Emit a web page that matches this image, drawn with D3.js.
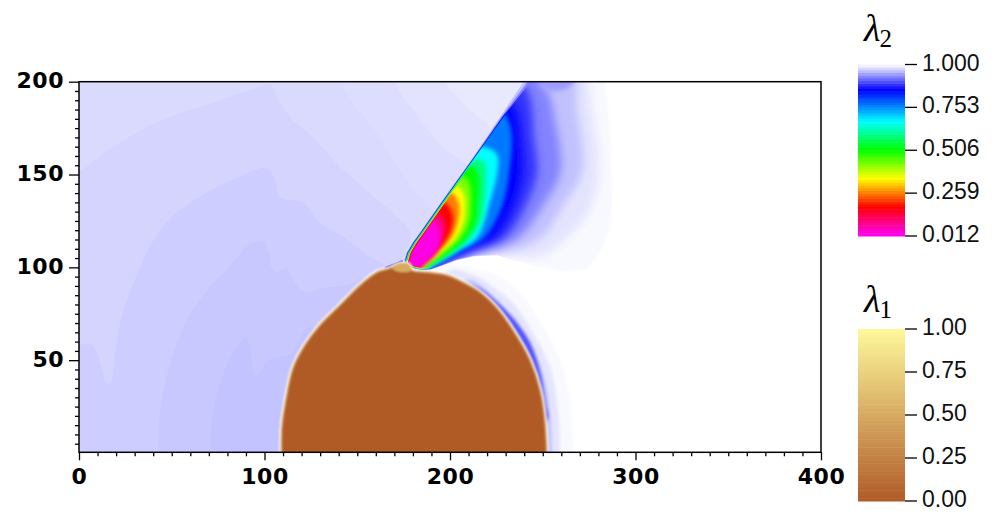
<!DOCTYPE html>
<html>
<head>
<meta charset="utf-8">
<script src="https://cdn.jsdelivr.net/npm/d3@7"></script>
<style>
html,body{margin:0;padding:0;background:#fff;}
svg{display:block;}
</style>
</head>
<body>
<script>
var width = 1001, height = 517;

// colour maps
var lambda2Stops = [0.012, 0.18, 0.345, 0.509, 0.673, 0.856, 1.0];
var lambda2Colors = ["#ff00ff", "#ff0000", "#ffff00", "#00ff00", "#00ffff", "#0000ff", "#ffffff"];
var lambda1Stops = [0, 1];
var lambda1Colors = ["#b05a28", "#fdf99a"];
var lambda2Ticks = ["1.000", "0.753", "0.506", "0.259", "0.012"];
var lambda1Ticks = ["1.00", "0.75", "0.50", "0.25", "0.00"];

// light bands of lambda2 left of the shock: value, then outline in x,y
var levelA = 0.987;
var bandA = [[-5,205],[241.5,205],[238.8,200],[227.1,181.6],[212.7,160],[194.7,134.8],[183.9,119.5],[179.4,113.2],[176.2,107.8],[174.5,101.9],[170,95],[150,-5],[-5,-5]];
var levelB = 0.984;
var bandB = [[-5,210],[196.7,210],[197.3,199.8],[205.4,190.1],[212.4,183.1],[221.5,175],[212.7,160],[194.7,134.8],[183.9,119.5],[179.4,113.2],[176.2,107.8],[174.5,101.9],[170,95],[150,-10],[-10,-10],[-10,210]];
var levelC = 0.981;
var bandC = [[-5,210],[170.3,210],[170.3,199.8],[180,184.7],[196.2,164.8],[205.4,157.8],[209.1,155],[194.7,134.8],[183.9,119.5],[179.4,113.2],[176.2,107.8],[174.5,101.9],[170,95],[150,-10],[-10,-10],[-10,210]];
var levelU = 0.979;
var bandU = [[-5,210],[140.7,210],[140.7,199.8],[147.7,188.5],[160.6,172.3],[173,152.4],[182.2,140],[190.8,130.9],[183.9,119.5],[179.4,113.2],[176.2,107.8],[174.5,101.9],[170,95],[150,-10],[-10,-10],[-10,210]];
var levelD = 0.976;
var bandD = [[-10,147],[0,151.3],[10.8,159.4],[27,170.2],[44.7,179.3],[71.7,188.5],[97,197.1],[103,198.7],[106.7,191.7],[113.7,180.9],[126.1,170.2],[140.7,154],[156.8,140],[169.2,129.2],[178.4,119],[176.2,107.8],[174.5,101.9],[170,95],[150,-10],[-10,-10]];
var levelE = 0.972;
var bandE = [[-10,58.2],[0,58.2],[7,58.2],[10.8,51.2],[14.6,38.2],[17.2,38.2],[19.9,56.5],[23.2,74.3],[32.3,98.5],[39.3,113.1],[50.1,127.1],[68.5,140],[86.2,148.6],[100.8,153.5],[105.1,148.6],[108.3,137.9],[120.7,134.6],[129.9,123.9],[142.3,116.3],[156.8,105.5],[166,100.2],[160,60],[100,-10],[-10,-10]];
var levelF = 0.969;
var bandF = [[43.1,-10],[43.1,15.1],[44.7,29.6],[50.1,51.2],[57.7,70.5],[70.1,88.9],[79.2,98.5],[93.2,113.1],[99.7,113.6],[102.4,107.7],[104,99.6],[106.2,97.5],[112.1,99.6],[114.8,94.2],[122.4,86.7],[131.5,88.9],[144.5,90.5],[160.6,95.9],[150,50],[110,-10]];
var levelG = 0.966;
var bandG = [[71.7,-10],[71.7,16.7],[77.1,40.4],[84.6,56.5],[90,61.9],[92.7,54.4],[94.3,42],[97,43.1],[102.4,50.1],[114.8,53.9],[124,67.3],[150,50],[120,-10]];

// halo on the right side of the bubble
var haloLevels = [0.996, 0.985, 0.965, 0.905];
var halo996 = [[186.5,99.6],[200,101.8],[216.1,98.5],[226.9,94.8],[239.3,84],[250.1,67.9],[259.3,50.1],[264.6,26.9],[266.3,0.5],[266.3,-8],[200,-8],[190,90]];
var halo985 = [[200,98.5],[216.1,94.2],[223.1,89.4],[233.9,80.8],[244.7,64.6],[253.9,46.3],[258.2,23.2],[259.3,0.5],[259.3,-8],[200,-8],[190,85]];
var halo965 = [[210.7,93.2],[216.1,90.5],[221.5,86.2],[230.7,77],[241.5,62.5],[250.1,43.1],[253.9,21.5],[255,0.5],[255,-8],[200,-8],[190,80]];
var halo905 = [[210,90],[216.1,88.9],[225.3,81.8],[233.9,73.2],[243.6,59.2],[249,43.1],[251.7,26.9],[252.6,17.8],[230,10],[200,60]];

// the fan behind the shock, outer contours first
var fanLevels = [0.996, 0.985, 0.965, 0.93, 0.885, 0.856, 0.77, 0.673, 0.59, 0.509, 0.43, 0.345, 0.26, 0.18, 0.1, 0.03];
var fan996 = [[225,210],[283.8,210],[283.8,200],[285.6,178.9],[286.9,151.9],[286.9,128.5],[282.9,112.3],[273.9,99.7],[263.1,97.9],[248.7,100.6],[230.7,104.2],[212.7,105.1]];
var fan985 = [[225,210],[274.8,210],[274.8,200],[277.5,178.9],[280.2,151.9],[274.8,130.3],[263.1,115.9],[248.7,106],[230.7,106.4],[212.7,106.9]];
var fan965 = [[225,210],[264.9,210],[268.5,184.3],[271.2,151.9],[261.3,133.9],[248.7,115.9],[230.7,108.7],[212.7,107.2]];
var fan930 = [[225,210],[248.7,210],[248.7,200],[253.2,193.3],[255.9,182.5],[259.5,151.9],[250.5,133.9],[237,115.9],[221.7,109.6],[201.9,103.3]];
var fan885 = [[228,198],[239.7,197.8],[243.3,189.7],[245.1,169.9],[246.9,151.9],[241,133.9],[229.3,115.9],[216.3,110.5],[198.3,103.3]];
var fan856 = [[227.1,190.6],[233.4,187.9],[237,178.9],[237.9,169.9],[238.8,151.9],[234.3,133.9],[223.5,115.9],[210.9,110.5],[194.7,102.4]];
var fan770 = [[224.4,183.4],[228.9,183.4],[231.6,178.9],[233.4,169.9],[232,151.9],[228.4,133.9],[218.5,115.9],[207.3,109.6],[192.9,101.9]];
var fan673 = [[212.7,165.4],[219.9,164.5],[225.3,160.9],[225.7,151.9],[221.2,133.9],[214.5,115.9],[203.7,108.7],[191.1,101.1]];
var fan590 = [[209.1,157.7],[218.1,157.3],[219.5,148.3],[218.5,133.9],[216.8,124.9],[211.3,115.9],[200.1,106.9],[189.3,100.6]];
var fan509 = [[205.5,154.6],[212.7,154.1],[215.4,148.3],[214.9,133.9],[213.8,124.9],[208.7,115.9],[198.3,106.9],[187.9,100.6]];
var fan430 = [[202.8,148.7],[208.7,148.3],[210.9,142.9],[211.3,133.9],[210.5,124.9],[205.9,115.9],[195.6,106.9],[186.6,100.6]];
var fan345 = [[198.3,143.8],[203.7,143.8],[207.7,139.3],[208.2,130.3],[207.5,124.9],[203.3,115.9],[193.8,106.9],[185.7,100.6]];
var fan260 = [[195.6,140.2],[201,140.2],[204.8,133.9],[204.2,124.9],[200.6,115.9],[192,106.9],[184.8,100.6]];
var fan180 = [[191.1,134.8],[197.4,134.8],[201.4,128.5],[201,121.3],[197.4,114.1],[188.9,105.1],[183.9,100.6]];
var fan100 = [[187.5,128.5],[194.7,128.5],[197.8,121.3],[194.7,114.1],[186.6,105.1],[183,100.6]];
var fan030 = [[181.2,125],[187.5,126.7],[192,124.9],[194.7,119.5],[194.7,112.3],[191.1,106],[184.8,100.6]];
var fanContours = [fan996, fan985, fan965, fan930, fan885, fan856, fan770, fan673, fan590, fan509, fan430, fan345, fan260, fan180, fan100, fan030];
var fanBack = [[183,94],[168,94]];
var topBlob = [[248,205],[268,205],[264,197],[257,195],[250,197]];
var topBlobLevel = 0.945;

var shockEdge = [[241.5,204.1],[238.8,200],[227.1,181.6],[212.7,160],[194.7,134.8],[183.9,119.5],[179.4,113.2],[176.2,107.8],[174.5,101.9]];
var floorEdge = [[177.6,100.6],[181.2,99],[184.8,98.3],[189.3,98.6],[196.5,101.1],[203.7,103.8],[212.7,105.8],[225.3,106.5],[248.7,99.7],[266.7,96.1],[293.7,96.1],[293.7,209.5],[241.5,209.5]];
// how far each level sits inside the shock (data units)
var shockInset = [0, 0, 0.15, 0.5, 0.8, 0.9, 1.1, 1.3, 1.5, 1.7, 2, 2.2, 2.4, 2.6, 2.9, 3.3];

// lambda1 bubble
var bubble = [[109.4,-8],[109.4,13.4],[111.1,25.8],[115.4,45.7],[121.8,58.1],[129.9,68.8],[140.7,79.6],[151.5,90.3],[160.6,97.3],[167.7,99.5],[172,101.6],[177.4,101.6],[179.5,98.4],[187.6,97.3],[198.4,95.7],[207,91.9],[216.2,86.6],[225.3,78],[234,66.1],[243.1,50],[248.5,33.9],[251.2,16.1],[252.3,-8]];
var bubbleCap = [[168.7,99.6],[172,101.8],[177.3,101.8],[179.4,98.5],[172.9,97.4]];
var tipLine = [[164.9,99.6],[170.3,101.8],[174.6,103.4]];

var xTicks = [0, 100, 200, 300, 400];
var yTicks = [50, 100, 150, 200];

var svg = d3.select("body").append("svg:svg")
    .attr("width", width)
    .attr("height", height);

var x = d3.scaleLinear().domain([0, 400]).range([79, 821]);
var y = d3.scaleLinear().domain([0, 200]).range([453, 81.7]);
var bottom = 452.3, top_ = 81.7;

var lambda2 = d3.scaleLinear().domain(lambda2Stops).range(lambda2Colors);
var lambda1 = d3.scaleLinear().domain(lambda1Stops).range(lambda1Colors);

var straight = d3.line().x(function(d){return x(d[0]);}).y(function(d){return y(d[1]);}).curve(d3.curveLinearClosed);
var smooth = d3.line().x(function(d){return x(d[0]);}).y(function(d){return y(d[1]);}).curve(d3.curveCatmullRomClosed.alpha(0.5));
var open = d3.line().x(function(d){return x(d[0]);}).y(function(d){return y(d[1]);}).curve(d3.curveCatmullRom.alpha(0.5));

var defs = svg.append("defs");
function blur(id, s) {
  defs.append("filter").attr("id", id)
      .attr("x", "-20%").attr("y", "-20%").attr("width", "140%").attr("height", "140%")
      .append("feGaussianBlur").attr("stdDeviation", s);
}
blur("blurFanEdge", 1.2);
blur("blurFanOuter", 4.5);
blur("blurFan", 2);
blur("blurEdge", 0.6);
blur("blurHalo", 1.5);
blur("blurRim", 1);
blur("blurBubble", 0.8);

defs.append("clipPath").attr("id", "frameClip").append("rect")
    .attr("x", x(0)).attr("y", top_).attr("width", x(400) - x(0)).attr("height", bottom - top_);

var field = svg.append("g").attr("clip-path", "url(#frameClip)");
field.append("rect").attr("x", x(0)).attr("y", top_).attr("width", x(400) - x(0)).attr("height", bottom - top_).attr("fill", "#fff");

// left side bands, stepped like the original
field.append("path").attr("d", straight(bandA)).attr("fill", lambda2(levelA));
var bands = [[levelB, bandB], [levelC, bandC], [levelU, bandU], [levelD, bandD], [levelE, bandE], [levelF, bandF], [levelG, bandG]];
field.selectAll("path.band").data(bands).enter().append("path")
    .attr("class", "band")
    .attr("d", function(d){return open(d[1]) + "Z";})
    .attr("fill", function(d){return lambda2(d[0]);});

// halo right of the bubble
var haloG = field.append("g").attr("filter", "url(#blurHalo)");
[halo996, halo985, halo965, halo905].forEach(function(h, i){
  haloG.append("path").attr("d", smooth(h)).attr("fill", lambda2(haloLevels[i]));
});

// fan: every level gets its own clip so the shock stays sharp
var fanG = field.append("g").attr("filter", "url(#blurEdge)");
fanContours.forEach(function(c, i){
  var inset = shockInset[i];
  // the shock gets much softer towards the top of the domain
  var clip = shockEdge.map(function(p){return [p[0] + inset * (p[1] > 190 ? 6 : p[1] > 175 ? 2 : 1), p[1]];})
    .concat(floorEdge.map(function(p){return [p[0], p[1] + inset * 0.5];}));
  defs.append("clipPath").attr("id", "fanClip" + i).append("path").attr("d", straight(clip));
  var blurId = i == 0 ? "blurFanEdge" : i < 6 ? "blurFanOuter" : "blurFan";
  fanG.append("g").attr("clip-path", "url(#fanClip" + i + ")")
    .append("path")
      .attr("d", open(c) + "L" + x(fanBack[0][0]) + "," + y(fanBack[0][1]) + "L" + x(fanBack[1][0]) + "," + y(fanBack[1][1]) + "Z")
      .attr("fill", lambda2(fanLevels[i]))
      .attr("filter", "url(#" + blurId + ")");
  if (i == 3) {
    fanG.append("g").attr("clip-path", "url(#fanClip3)")
      .append("path").attr("d", smooth(topBlob)).attr("fill", lambda2(topBlobLevel)).attr("filter", "url(#blurFan)");
  }
});

field.append("path").attr("d", open(tipLine)).attr("fill", "none")
    .attr("stroke", lambda2(0.885)).attr("stroke-width", 2);

// bubble
field.append("path").attr("d", open(bubble)).attr("fill", "none")
    .attr("stroke", "#fff").attr("stroke-width", 4.5).attr("filter", "url(#blurRim)");
var bub = field.append("g").attr("filter", "url(#blurBubble)");
bub.append("path").attr("d", open(bubble))
    .attr("fill", lambda1(0)).attr("stroke", lambda1(0.4)).attr("stroke-width", 1.5);
bub.append("path").attr("d", smooth(bubbleCap)).attr("fill", lambda1(0.5));

// frame and axes
svg.append("rect").attr("x", x(0)).attr("y", top_).attr("width", x(400) - x(0)).attr("height", bottom - top_)
    .attr("fill", "none").attr("stroke", "#000").attr("stroke-width", 1.5);

var xAxis = svg.append("g").attr("transform", "translate(0," + bottom + ")")
    .call(d3.axisBottom(x).tickValues(xTicks).tickSize(8).tickSizeOuter(0));
var yAxis = svg.append("g").attr("transform", "translate(" + x(0) + ",0)")
    .call(d3.axisLeft(y).tickValues(yTicks).tickSize(10).tickSizeOuter(0));
svg.append("g").attr("transform", "translate(0," + bottom + ")")
    .call(d3.axisBottom(x).tickValues(d3.range(10, 400, 10).filter(function(v){return v % 100 != 0;})).tickSize(4).tickSizeOuter(0).tickFormat(""));
svg.append("g").attr("transform", "translate(" + x(0) + ",0)")
    .call(d3.axisLeft(y).tickValues(d3.range(5, 200, 5).filter(function(v){return v % 50 != 0;})).tickSize(4).tickSizeOuter(0).tickFormat(""));
svg.selectAll(".domain").remove();
svg.selectAll(".tick line").attr("stroke", "#000").attr("stroke-width", 1.3);
xAxis.selectAll("text").attr("y", 484 - bottom).attr("dy", 0)
    .style("font", "bold 22px 'DejaVu Sans'").style("letter-spacing", "0.5px").attr("fill", "#000");
yAxis.selectAll("text").attr("x", -15).attr("dy", 6)
    .style("font", "bold 22px 'DejaVu Sans'").style("letter-spacing", "0.5px").attr("fill", "#000");

// colour bars
function colorBar(top, bot, scale, lo, hi, labels, title, sub, titleY) {
  var barY = d3.scaleLinear().domain([lo, hi]).range([bot, top]);
  var steps = d3.range(64);
  var g = svg.append("g");
  g.selectAll("rect").data(steps).enter().append("rect")
      .attr("x", 858).attr("width", 47)
      .attr("y", function(i){return barY(lo + (hi - lo) * (i + 1) / 64);})
      .attr("height", (bot - top) / 64 + 0.5)
      .attr("fill", function(i){return scale(lo + (hi - lo) * (i + 0.5) / 64);});
  labels.forEach(function(t, i){
    var ty = top + (bot - top) * i / (labels.length - 1);
    g.append("line").attr("x1", 905).attr("x2", 917).attr("y1", ty).attr("y2", ty)
        .attr("stroke", "#000").attr("stroke-width", 1.3);
    g.append("text").attr("x", 922).attr("y", ty + 6).text(t)
        .style("font", "23px 'Liberation Sans'").attr("fill", "#111");
  });
  var tt = g.append("text").attr("x", 864).attr("y", titleY).attr("fill", "#000");
  tt.append("tspan").text(title).style("font", "italic 38px 'Liberation Serif'");
  tt.append("tspan").text(sub).attr("dx", -1).attr("dy", 6).style("font", "25px 'Liberation Serif'");
}
colorBar(64.5, 236, lambda2, 0.012, 1, lambda2Ticks, "λ", "2", 41);
colorBar(329, 501, lambda1, 0, 1, lambda1Ticks, "λ", "1", 312);
</script>
</body>
</html>
